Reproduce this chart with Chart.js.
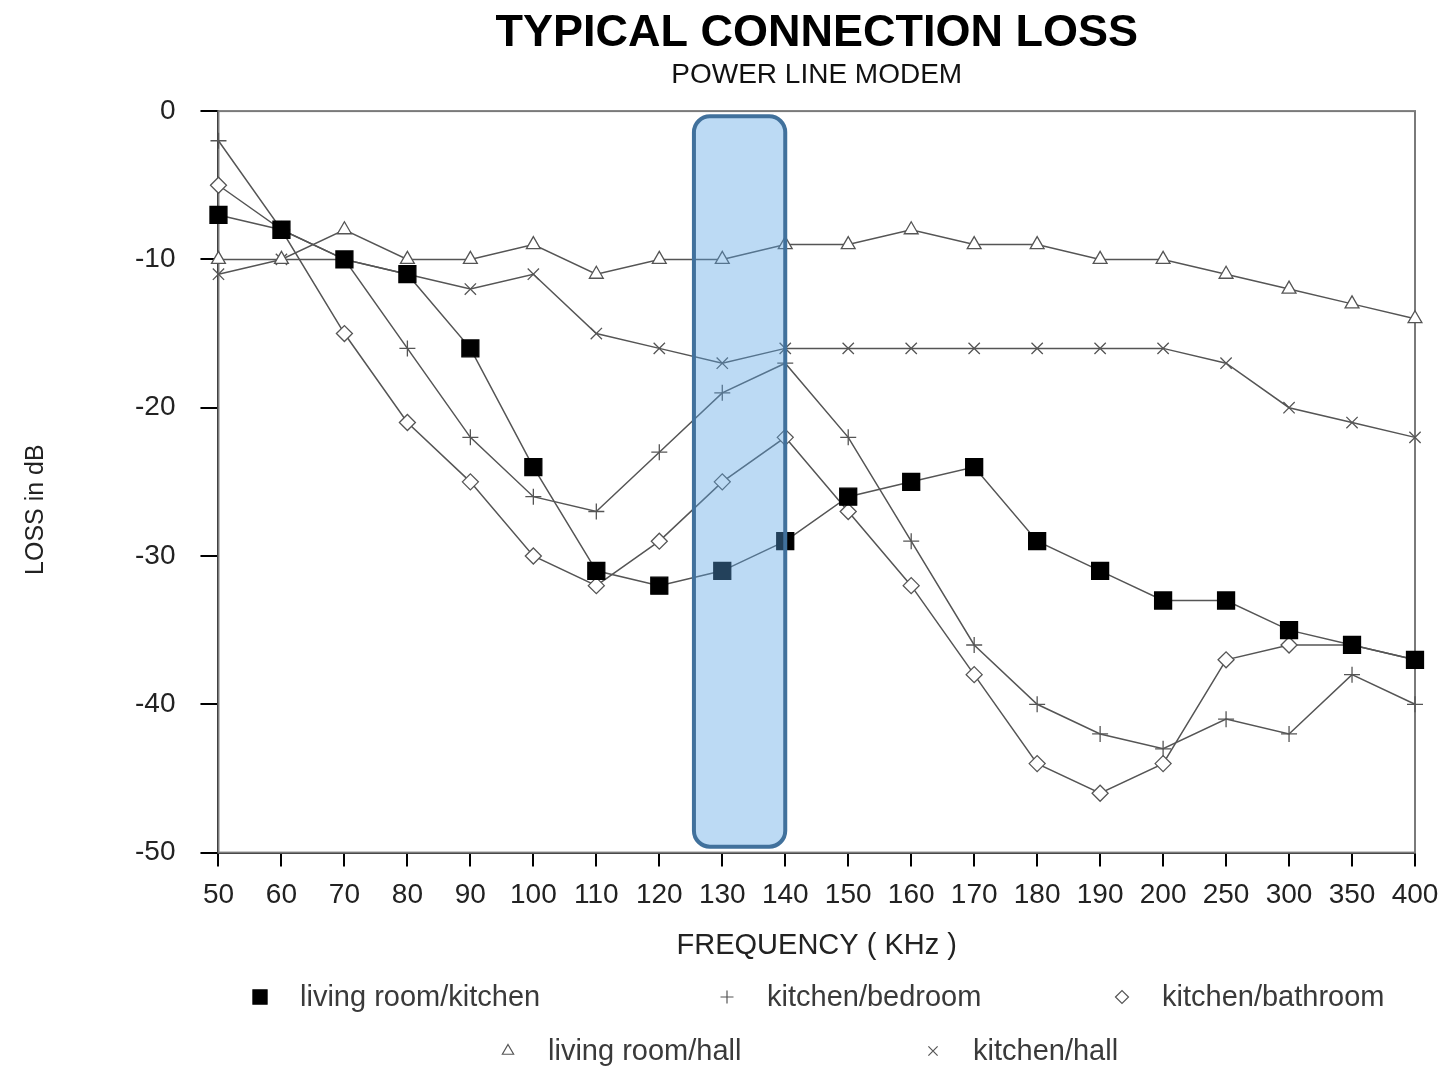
<!DOCTYPE html>
<html>
<head>
<meta charset="utf-8">
<script src="https://cdn.jsdelivr.net/npm/chart.js@4/dist/chart.umd.min.js"></script>
<style>
  html, body { margin: 0; padding: 0; background: #fff; }
  #wrap { width: 1443px; height: 1067px; position: relative; }
</style>
</head>
<body>
<div id="wrap"><canvas id="lossChart"></canvas></div>
<script>
// --- Data ---
const frequencies = ['50', '60', '70', '80', '90', '100', '110', '120', '130', '140',
                     '150', '160', '170', '180', '190', '200', '250', '300', '350', '400'];

const livingKitchen  = [-7, -8, -10, -11, -16, -24, -31, -32, -31, -29, -26, -25, -24, -29, -31, -33, -33, -35, -36, -37];
const kitchenBedroom = [-2, -8, -10, -16, -22, -26, -27, -23, -19, -17, -22, -29, -36, -40, -42, -43, -41, -42, -38, -40];
const kitchenBathroom = [-5, -8, -15, -21, -25, -30, -32, -29, -25, -22, -27, -32, -38, -44, -46, -44, -37, -36, -36, -37];
const livingHall     = [-10, -10, -8, -10, -10, -9, -11, -10, -10, -9, -9, -8, -9, -9, -10, -10, -11, -12, -13, -14];
const kitchenHall    = [-11, -10, -10, -11, -12, -11, -15, -16, -17, -16, -16, -16, -16, -16, -16, -16, -17, -20, -21, -22];

const yTicks = [0, -10, -20, -30, -40, -50];

// highlighted band, in category index units (130 kHz column up to 140)
const bandFrom = 7.55;
const bandTo = 9;
const bandTop = -0.35;
const bandBottom = -49.6;

const FONT = "'Liberation Sans', Arial, sans-serif";
const lineGray = '#555';

function series(label, data, style, radius, filled) {
    return {
        label: label,
        data: data,
        borderColor: lineGray,
        borderWidth: 1.5,
        pointStyle: style,
        pointRadius: radius,
        pointBorderWidth: 1.3,
        pointBorderColor: filled ? '#000' : lineGray,
        pointBackgroundColor: filled ? '#000' : '#fff',
        tension: 0,
        fill: false
    };
}

// Frame + highlight box drawn on top of the lines
const bandPlugin = {
    id: 'band',
    beforeDatasetsDraw(chart) {
        const { ctx, chartArea } = chart;
        ctx.save();
        ctx.strokeStyle = '#7a7a7a';
        ctx.lineWidth = 2;
        ctx.strokeRect(chartArea.left, chartArea.top, chartArea.right - chartArea.left, chartArea.bottom - chartArea.top);
        ctx.restore();
    },
    afterDatasetsDraw(chart) {
        const { ctx, scales } = chart;
        const x0 = scales.x.getPixelForValue(bandFrom);
        const x1 = scales.x.getPixelForValue(bandTo);
        const y0 = scales.y.getPixelForValue(bandTop);
        const y1 = scales.y.getPixelForValue(bandBottom);
        ctx.save();
        ctx.beginPath();
        ctx.roundRect(x0, y0, x1 - x0, y1 - y0, 16);
        ctx.fillStyle = 'rgba(88, 162, 227, 0.4)';
        ctx.fill();
        ctx.lineWidth = 4;
        ctx.strokeStyle = '#41719c';
        ctx.stroke();
        ctx.restore();
    }
};

// Legend in two rows, like the reference
const legendSlots = [
    { x: 260, y: 997 }, { x: 727, y: 997 }, { x: 1122, y: 997 },
    { x: 508, y: 1051 }, { x: 933, y: 1051 }
];

const legendPlugin = {
    id: 'rowLegend',
    afterDraw(chart) {
        const { ctx } = chart;
        ctx.save();
        chart.data.datasets.forEach((ds, i) => {
            const slot = legendSlots[i];
            const filled = ds.pointBackgroundColor === '#000';
            ctx.fillStyle = ds.pointBackgroundColor;
            ctx.strokeStyle = ds.pointBorderColor;
            ctx.lineWidth = 1.2;
            Chart.helpers.drawPoint(ctx, {
                pointStyle: ds.pointStyle,
                radius: filled ? 10 : 6.5,
                rotation: 0,
                borderWidth: 1.2
            }, slot.x, slot.y);
            ctx.fillStyle = '#3a3a3a';
            ctx.font = '29px ' + FONT;
            ctx.textBaseline = 'middle';
            ctx.textAlign = 'left';
            ctx.fillText(ds.label, slot.x + 40, slot.y + 1);
        });
        ctx.restore();
    }
};

new Chart(document.getElementById('lossChart'), {
    type: 'line',
    data: {
        labels: frequencies,
        datasets: [
            series('living room/kitchen', livingKitchen, 'rect', 12, true),
            series('kitchen/bedroom', kitchenBedroom, 'cross', 8, false),
            series('kitchen/bathroom', kitchenBathroom, 'rectRot', 8, false),
            series('living room/hall', livingHall, 'triangle', 8, false),
            series('kitchen/hall', kitchenHall, 'crossRot', 8, false)
        ]
    },
    options: {
        responsive: true,
        maintainAspectRatio: false,
        animation: false,
        layout: { padding: { left: 21, right: 0, top: 0, bottom: 104 } },
        plugins: {
            legend: { display: false },
            tooltip: { enabled: false },
            title: {
                display: true,
                text: 'TYPICAL CONNECTION LOSS',
                color: '#000',
                fullSize: false,
                font: { family: FONT, size: 45, weight: 'bold', lineHeight: 1.1 },
                padding: { top: 9, bottom: 0 }
            },
            subtitle: {
                display: true,
                text: 'POWER LINE MODEM',
                color: '#111',
                fullSize: false,
                font: { family: FONT, size: 28 },
                padding: { top: 0, bottom: 19 }
            }
        },
        scales: {
            x: {
                offset: false,
                afterFit(scale) { scale.paddingRight = 28; },
                border: { color: '#000', width: 2 },
                grid: { drawOnChartArea: false, drawTicks: true, tickLength: 14, color: '#000', lineWidth: 2 },
                ticks: { color: '#222', font: { family: FONT, size: 28 }, padding: 12, maxRotation: 0, autoSkip: false },
                title: {
                    display: true,
                    text: 'FREQUENCY ( KHz )',
                    color: '#222',
                    font: { family: FONT, size: 29 },
                    padding: { top: 4, bottom: 0 }
                }
            },
            y: {
                min: -50,
                max: 0,
                afterBuildTicks(scale) { scale.ticks = yTicks.map(v => ({ value: v })); },
                border: { color: '#000', width: 2 },
                grid: { drawOnChartArea: false, drawTicks: true, tickLength: 18, color: '#000', lineWidth: 2 },
                ticks: { color: '#222', font: { family: FONT, size: 28 }, padding: 25 },
                title: {
                    display: true,
                    text: 'LOSS in dB        ',
                    color: '#222',
                    font: { family: FONT, size: 25 },
                    padding: { top: 0, bottom: 59 }
                }
            }
        }
    },
    plugins: [bandPlugin, legendPlugin]
});
</script>
</body>
</html>
